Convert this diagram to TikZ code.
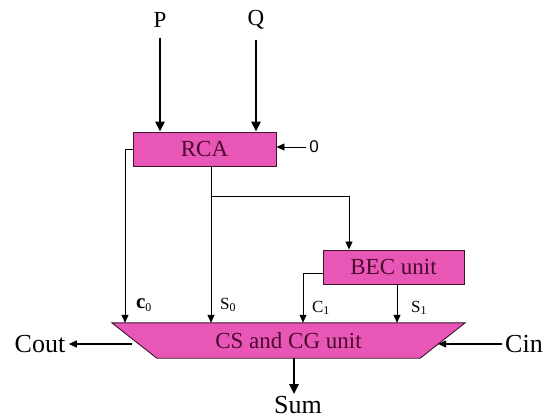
\documentclass[tikz,border=0pt]{standalone}
\usepackage{fontspec}
\setmainfont{Liberation Serif}
\newfontfamily\zerofont{Liberation Sans}
\usetikzlibrary{arrows.meta,backgrounds}
\definecolor{unitpink}{RGB}{232,86,182}
\definecolor{unitline}{RGB}{60,20,45}
\definecolor{unittext}{RGB}{75,10,45}

\begin{document}
\begin{tikzpicture}[x=1pt,y=-1pt,
  unit/.style={draw=unitline,fill=unitpink,line width=0.9pt,text=unittext,font=\fontsize{23}{23}\selectfont,inner sep=0pt},
  inp/.style={font=\fontsize{23}{23}\selectfont,inner sep=0pt},
  io/.style={font=\fontsize{26}{26}\selectfont},
  sig/.style={font=\fontsize{17}{17}\selectfont,inner sep=0pt},
  wire/.style={line width=0.8pt,-{Triangle[length=8pt,width=7pt]}},
  side/.style={line width=1.1pt,-{Triangle[length=8pt,width=7pt]}},
  bus/.style={line width=2.4pt,-{Triangle[length=10pt,width=9pt]}}]
\useasboundingbox (0,0) rectangle (548,419);

\node[inp] (p) at (160,20) {P};
\node[inp] (q) at (256,20) {Q};
\node[unit,minimum width=143pt,minimum height=34pt] (rca) at (204.5,149) {RCA};
\node[font=\zerofont\fontsize{17}{17}\selectfont] (zero) at (314,147) {0};
\node[unit,minimum width=141pt,minimum height=34pt] (bec) at (393.5,267) {BEC unit};
\node[font=\fontsize{23}{23}\selectfont,text=unittext,minimum width=353pt,minimum height=35pt,inner sep=0pt] (cs) at (288.5,340.5) {CS and CG unit};
\begin{scope}[on background layer]
\filldraw[draw=unitline,fill=unitpink,line width=0.9pt] (cs.north west) -- (cs.north east)
  -- ([xshift=-45pt]cs.south east) -- ([xshift=45pt]cs.south west) -- cycle;
\end{scope}

\node[io] (cout) at (40,344) {Cout};
\node[io] (cin) at (524,344) {Cin};
\node[io,inner sep=2pt] (sum) at (298,405) {Sum};

\node[sig] (c0) at (144,305) {{\fontsize{21}{21}\selectfont\bfseries c}\textsubscript{0}};
\node[sig] (s0) at (228,305) {S\textsubscript{0}};
\node[sig] (c1) at (321,308) {C\textsubscript{1}};
\node[sig] (s1) at (419,308) {S\textsubscript{1}};

\draw[bus] (p.south) ++(0,10) -- (p.south |- rca.north);
\draw[bus] (q.south) ++(0,10) -- (q.south |- rca.north);
\draw[wire] (zero.west) -- (zero -| rca.east);

\draw[wire] (rca.west) -| ([xshift=-163.5pt]cs.north);
\draw[wire] ([xshift=6.5pt]rca.south) -- ([xshift=-77.5pt]cs.north);
\draw ([xshift=6.5pt]rca.south) ++(0,30) coordinate (split);
\draw[wire] (split) -| ([xshift=-44.5pt]bec.north);
\draw[wire] ([yshift=-6pt]bec.west) -| ([xshift=14.5pt]cs.north);
\draw[wire] ([xshift=3.5pt]bec.south) -- ([xshift=108.5pt]cs.north);

\draw[side] ([xshift=20pt,yshift=-3.5pt]cs.west) -- (cout.east);
\draw[side] (cin.west) -- ([xshift=-27pt,yshift=-3.5pt]cs.east);
\draw[bus] ([xshift=5.5pt]cs.south) -- ([xshift=5.5pt]cs.south |- sum.north);
\end{tikzpicture}
\end{document}
